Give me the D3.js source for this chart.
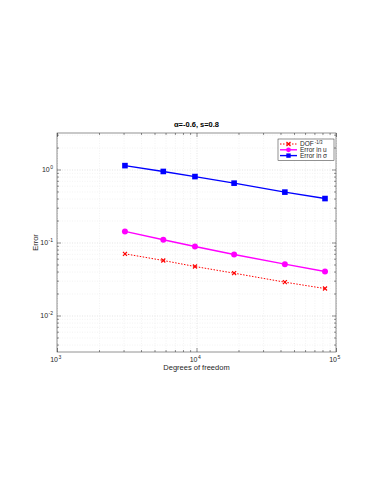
<!DOCTYPE html>
<html>
<head>
<meta charset="utf-8">
<script src="https://cdn.jsdelivr.net/npm/d3@7"></script>
<style>
  body { margin: 0; background: #fff; }
  svg { font-family: "Liberation Sans", Arial, sans-serif; }
  .grid line { stroke: #d4d4d4; stroke-dasharray: 1,1.5; stroke-width: 0.6; }
  .minor line { stroke: #ebebeb; stroke-dasharray: 1,1.5; stroke-width: 0.6; }
</style>
</head>
<body>
<svg id="chart" width="382" height="494"></svg>
<script>
// data
let dof = [3070, 5780, 9750, 18600, 43000, 83400];
let errSigma = [1.13, 0.94, 0.80, 0.65, 0.49, 0.40];
let errU = [0.142, 0.109, 0.088, 0.0685, 0.0505, 0.040];
let rate = [0.070, 0.0567, 0.0469, 0.038, 0.0286, 0.0234];
let xTicks = [1e3, 1e4, 1e5];
let xTickExp = ["3", "4", "5"];
let yTicks = [1e-2, 1e-1, 1e0];
let yTickExp = ["-2", "-1", "0"];

let margins = {top: 133, right: 46, bottom: 142, left: 57};
let totalWidth = 382, totalHeight = 494;
let innerWidth = totalWidth - margins.left - margins.right;
let innerHeight = totalHeight - margins.top - margins.bottom;

let chart = d3.select("#chart");
chart.append("rect").attr("width", totalWidth).attr("height", totalHeight).attr("fill", "#fff");

let x = d3.scaleLog([1e3, 1e5], [0, innerWidth]);
let y = d3.scaleLog([Math.pow(10, -2.5), Math.pow(10, 0.5)], [innerHeight, 0]);

let g = chart.append("g").attr("transform", `translate(${margins.left},${margins.top})`);

// minor ticks values
let xMinor = [];
for (let k = 3; k < 5; k++) for (let m = 2; m < 10; m++) xMinor.push(m * Math.pow(10, k));
let yMinor = [];
for (let k = -3; k < 1; k++) for (let m = 2; m < 10; m++) {
  let v = m * Math.pow(10, k);
  if (v >= y.domain()[0] && v <= y.domain()[1]) yMinor.push(v);
}

function clean(a) {
  a.select(".domain").remove();
  a.selectAll("text").remove();
}

// grids
g.append("g").attr("class", "minor")
  .call(d3.axisBottom(x).tickValues(xMinor).tickSize(innerHeight)).call(clean);
g.append("g").attr("class", "minor")
  .call(d3.axisLeft(y).tickValues(yMinor).tickSize(-innerWidth)).call(clean);
g.append("g").attr("class", "grid")
  .call(d3.axisBottom(x).tickValues(xTicks).tickSize(innerHeight)).call(clean);
g.append("g").attr("class", "grid")
  .call(d3.axisLeft(y).tickValues(yTicks).tickSize(-innerWidth)).call(clean);

// ticks inside on all four sides
function tickSide(axis, transform, vals, size) {
  g.append("g").attr("transform", transform)
    .call(axis.tickValues(vals).tickSizeInner(size).tickSizeOuter(0))
    .call(clean)
    .selectAll("line").attr("stroke", "#262626").attr("stroke-width", 0.5);
}
tickSide(d3.axisBottom(x), `translate(0,${innerHeight})`, xTicks, -4);
tickSide(d3.axisBottom(x), `translate(0,${innerHeight})`, xMinor, -2);
tickSide(d3.axisTop(x), `translate(0,0)`, xTicks, -4);
tickSide(d3.axisTop(x), `translate(0,0)`, xMinor, -2);
tickSide(d3.axisLeft(y), `translate(0,0)`, yTicks, -4);
tickSide(d3.axisLeft(y), `translate(0,0)`, yMinor, -2);
tickSide(d3.axisRight(y), `translate(${innerWidth},0)`, yTicks, -4);
tickSide(d3.axisRight(y), `translate(${innerWidth},0)`, yMinor, -2);

g.append("rect").attr("width", innerWidth).attr("height", innerHeight)
  .attr("fill", "none").attr("stroke", "#262626").attr("stroke-width", 0.5);

// tick labels: base and exponent as separate texts
xTicks.forEach((d, i) => {
  g.append("text").attr("x", x(d) + 1).attr("y", innerHeight + 9.5)
    .attr("text-anchor", "end").attr("font-size", 7).attr("fill", "#262626").text("10");
  g.append("text").attr("x", x(d) + 1.5).attr("y", innerHeight + 6.5)
    .attr("font-size", 5).attr("fill", "#262626").text(xTickExp[i]);
});
yTicks.forEach((d, i) => {
  let ex = g.append("text").attr("x", -4).attr("y", y(d) - 1)
    .attr("text-anchor", "end").attr("font-size", 5).attr("fill", "#262626").text(yTickExp[i]);
  let w = ex.node().getComputedTextLength();
  g.append("text").attr("x", -4.5 - w).attr("y", y(d) + 2.3)
    .attr("text-anchor", "end").attr("font-size", 7).attr("fill", "#262626").text("10");
});

// axis labels and title
g.append("text").attr("x", innerWidth / 2).attr("y", innerHeight + 18)
  .attr("text-anchor", "middle").attr("font-size", 7.5).attr("fill", "#262626")
  .text("Degrees of freedom");
g.append("text").attr("transform", `translate(-19,${innerHeight / 2}) rotate(-90)`)
  .attr("text-anchor", "middle").attr("font-size", 7.5).attr("fill", "#262626")
  .text("Error");
g.append("text").attr("x", innerWidth / 2).attr("y", -6)
  .attr("text-anchor", "middle").attr("font-size", 7.5).attr("font-weight", "bold")
  .attr("fill", "#000").text("α=-0.6,  s=0.8");

// series
let series = [
  {name: "dof", vals: rate, color: "#ff0000", dash: "1.5,1.5", marker: "x"},
  {name: "u", vals: errU, color: "#ff00ff", dash: null, marker: "o"},
  {name: "sigma", vals: errSigma, color: "#0000ff", dash: null, marker: "s"}
];
let line = d3.line().x((d, i) => x(dof[i])).y(d => y(d));

function drawMarker(sel, s, cx, cy) {
  if (s.marker === "o") {
    sel.append("circle").attr("cx", cx).attr("cy", cy).attr("r", 3).attr("fill", s.color);
  } else if (s.marker === "s") {
    sel.append("rect").attr("x", cx - 2.8).attr("y", cy - 2.8).attr("width", 5.6).attr("height", 5.6).attr("fill", s.color);
  } else {
    sel.append("path").attr("d", `M${cx - 2},${cy - 2}L${cx + 2},${cy + 2}M${cx - 2},${cy + 2}L${cx + 2},${cy - 2}`)
      .attr("stroke", s.color).attr("stroke-width", 1.2);
  }
}

series.forEach(s => {
  g.append("path").datum(s.vals).attr("d", line).attr("fill", "none")
    .attr("stroke", s.color).attr("stroke-width", s.dash ? 1 : 1.4)
    .attr("stroke-dasharray", s.dash);
  let mg = g.append("g");
  s.vals.forEach((v, i) => drawMarker(mg, s, x(dof[i]), y(v)));
});

// legend
let lg = g.append("g").attr("transform", `translate(${innerWidth - 58},6)`);
lg.append("rect").attr("width", 56).attr("height", 21.5).attr("fill", "#fff")
  .attr("stroke", "#262626").attr("stroke-width", 0.5);
let labels = [["DOF", "-1/3"], ["Error in u", null], ["Error in σ", null]];
series.forEach((s, i) => {
  let ly = 5 + i * 5.8;
  lg.append("line").attr("x1", 2).attr("x2", 19).attr("y1", ly).attr("y2", ly)
    .attr("stroke", s.color).attr("stroke-width", s.dash ? 1 : 1.4)
    .attr("stroke-dasharray", s.dash);
  let m = lg.append("g");
  drawMarker(m, s, 10.5, ly);
  m.selectAll("circle").attr("r", 2.4);
  m.selectAll("rect").attr("x", 8.3).attr("y", ly - 2.2).attr("width", 4.4).attr("height", 4.4);
  let t = lg.append("text").attr("x", 22).attr("y", ly + 2.2).attr("font-size", 6.5)
    .attr("fill", "#262626").text(labels[i][0]);
  if (labels[i][1]) {
    let w = t.node().getComputedTextLength();
    lg.append("text").attr("x", 23 + w).attr("y", ly - 0.3).attr("font-size", 4.5)
      .attr("fill", "#262626").text(labels[i][1]);
  }
});
</script>
</body>
</html>
